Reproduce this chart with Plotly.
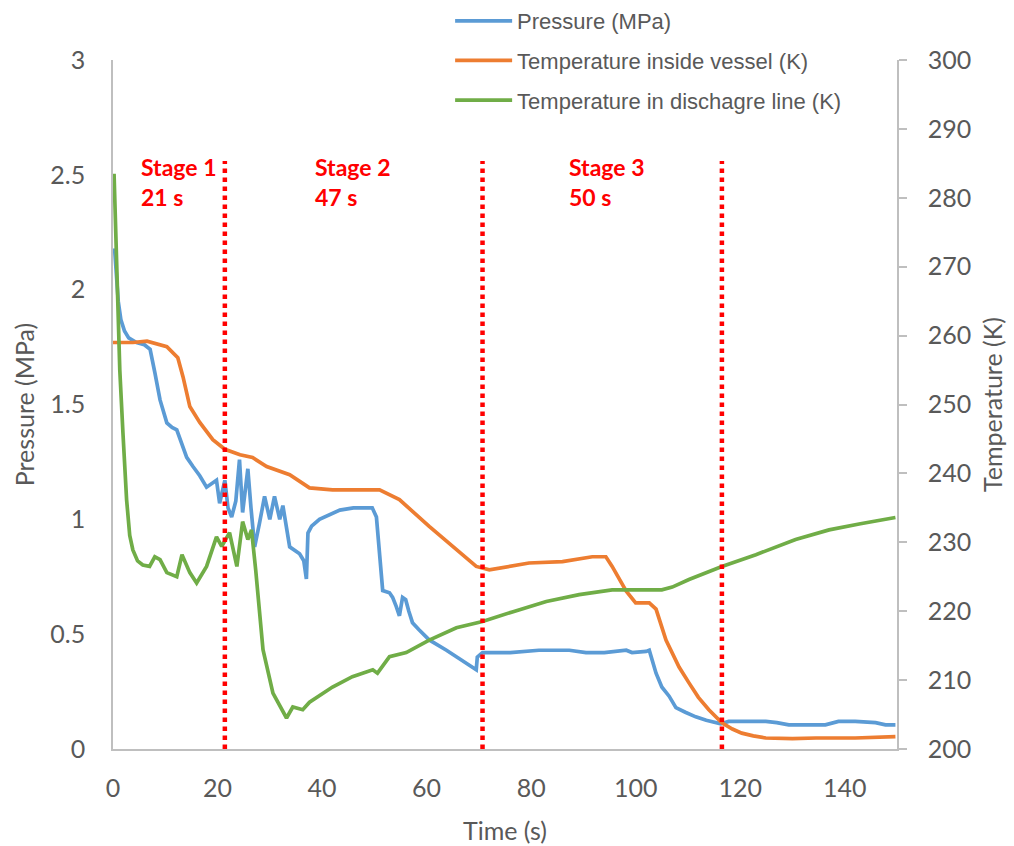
import plotly.graph_objects as go

# ---------------- data ----------------
p_time = [0.3, 0.6, 1.0, 1.5, 2.2, 3.0, 4.5, 6.0, 7.1, 8.0, 9.0, 10.3, 11.3, 12.2, 12.8, 14.1, 15.3, 16.6,
          17.9, 19.0, 19.8, 20.4, 21.4, 22.0, 22.7, 23.5, 24.2, 24.8, 25.8, 26.4, 27.1, 28.0, 29.0, 30.0,
          30.9, 31.9, 32.5, 33.8, 35.7, 36.5, 37.0, 37.3, 38.0, 39.5, 41.5, 43.4, 46.0, 48.5, 49.6, 50.4,
          51.0, 51.6, 52.9, 53.5, 54.2, 54.8, 55.4, 56.0, 56.6, 57.3, 58.5, 60.5, 63.8, 66.5, 69.5, 69.7,
          70.7, 72.0, 76.0, 81.5, 87.3, 90.5, 94.0, 98.2, 99.3, 102.0, 102.6, 103.9, 105.0, 106.4,
          107.7, 109.5, 111.5, 113.5, 116.3, 117.8, 121.0, 124.9, 127.0, 129.3, 133.0, 136.3, 138.8,
          142.0, 145.9, 147.8, 149.7]
pressure = [2.18, 2.05, 1.95, 1.87, 1.82, 1.79, 1.77, 1.76, 1.74, 1.64, 1.52, 1.42, 1.40, 1.39, 1.35, 1.27, 1.23, 1.19,
            1.14, 1.16, 1.17, 1.07, 1.17, 1.05, 1.01, 1.08, 1.26, 1.03, 1.22, 1.05, 0.88, 0.98, 1.10, 1.00,
            1.10, 1.00, 1.06, 0.88, 0.85, 0.82, 0.74, 0.94, 0.97, 1.00, 1.02, 1.04, 1.05, 1.05, 1.05, 1.01,
            0.87, 0.69, 0.68, 0.66, 0.62, 0.58, 0.66, 0.65, 0.60, 0.55, 0.52, 0.475, 0.43, 0.39, 0.345, 0.40,
            0.42, 0.42, 0.42, 0.43, 0.43, 0.42, 0.42, 0.43, 0.42, 0.425, 0.43, 0.33, 0.27, 0.23,
            0.18, 0.16, 0.14, 0.125, 0.11, 0.12, 0.12, 0.12, 0.115, 0.105, 0.105, 0.105, 0.12,
            0.12, 0.115, 0.105, 0.105]

tv_time = [0.0, 3.8, 6.5, 10.3, 12.4, 13.4, 14.7, 16.6, 19.1, 21.4, 24.3, 26.7, 29.4, 33.8, 37.6, 42.0,
           51.0, 54.8, 60.5, 65.0, 69.5, 72.0, 79.6, 86.0, 91.7, 94.3, 95.5, 98.2, 100.0, 102.6, 103.9,
           105.8, 108.3, 110.2, 112.0, 114.0, 116.5, 118.5, 120.3, 122.5, 124.9, 130.0, 134.5, 142.0, 149.7]
temp_vessel = [259.0, 259.0, 259.2, 258.4, 256.8, 254.0, 249.7, 247.4, 244.9, 243.5, 242.7, 242.3, 241.0, 239.8, 237.9, 237.6,
               237.6, 236.2, 232.3, 229.4, 226.5, 226.0, 227.0, 227.2, 227.9, 227.9, 226.5, 222.9, 221.2, 221.2, 220.3,
               215.8, 211.9, 209.6, 207.5, 205.7, 203.8, 202.9, 202.3, 201.9, 201.6, 201.5, 201.6, 201.6, 201.8]

td_time = [0.2, 0.6, 0.9, 1.3, 1.9, 2.6, 3.2, 3.8, 4.7, 5.7, 7.0, 8.0, 9.0, 10.3, 12.2, 13.2, 14.7, 16.0,
           17.9, 19.8, 20.8, 22.3, 23.7, 24.8, 25.8, 26.5, 27.3, 28.7, 30.6, 33.2, 34.4, 36.3, 37.6, 42.0,
           45.8, 49.7, 50.6, 52.9, 56.1, 60.5, 65.7, 70.7, 76.4, 82.9, 89.2, 95.5, 102.0, 105.0, 107.0,
           110.2, 116.5, 123.0, 130.6, 137.0, 143.0, 149.7]
temp_discharge = [283.5, 272.0, 263.0, 255.0, 245.9, 236.2, 231.0, 228.9, 227.3, 226.7, 226.5, 227.9, 227.5, 225.6, 225.0, 228.2, 225.6, 224.1,
                  226.5, 230.8, 229.4, 231.4, 226.5, 233.0, 230.4, 231.8, 226.0, 214.4, 208.1, 204.5, 206.1, 205.7, 206.8, 209.0,
                  210.5, 211.5, 211.0, 213.4, 214.0, 215.8, 217.6, 218.5, 219.9, 221.4, 222.4, 223.1, 223.1, 223.1, 223.5,
                  224.6, 226.5, 228.2, 230.4, 231.8, 232.7, 233.6]

stage_bounds = [21.4, 70.7, 116.5]          # s, dotted red lines
stage_names = ["Stage 1", "Stage 2", "Stage 3"]
stage_durations = ["21 s", "47 s", "50 s"]
stage_label_x = [5.0, 38.3, 86.8]

x_ticks = [0, 20, 40, 60, 80, 100, 120, 140]
p_ticks = [0, 0.5, 1, 1.5, 2, 2.5, 3]
t_ticks = [200, 210, 220, 230, 240, 250, 260, 270, 280, 290, 300]

# ---------------- figure ----------------
GRAY = "#595959"
AXIS = "#BFBFBF"
TICKFONT = dict(family="Lato", size=25, color=GRAY)

fig = go.Figure()
fig.add_trace(go.Scatter(x=p_time, y=pressure, mode="lines", name="Pressure (MPa)",
                         line=dict(color="#5B9BD5", width=3.7), legendgroup="a"))
fig.add_trace(go.Scatter(x=tv_time, y=temp_vessel, mode="lines", name="Temperature inside vessel (K)",
                         line=dict(color="#ED7D31", width=3.7), yaxis="y2", legendgroup="b"))
fig.add_trace(go.Scatter(x=td_time, y=temp_discharge, mode="lines", name="Temperature in dischagre line (K)",
                         line=dict(color="#70AD47", width=3.7), yaxis="y2", legendgroup="c"))

for xb in stage_bounds:
    fig.add_shape(type="line", xref="x", yref="y", x0=xb, x1=xb, y0=0, y1=2.56,
                  line=dict(color="#FF0000", width=4.5, dash="dot"))

for xl, nm, du in zip(stage_label_x, stage_names, stage_durations):
    fig.add_annotation(x=xl, y=2.467, xref="x", yref="y", xanchor="left", yanchor="middle",
                       text=f"<b>{nm}<br>{du}</b>", showarrow=False, align="left",
                       font=dict(family="Lato", size=23, color="#FF0000"))

fig.update_layout(
    width=1014, height=846,
    margin=dict(l=113, r=117, t=60, b=97, autoexpand=False),
    plot_bgcolor="white", paper_bgcolor="white",
    showlegend=True,
    legend=dict(x=0.43, y=1.087, xanchor="left", yanchor="top",
                font=dict(family="Liberation Sans", size=22, color=GRAY),
                tracegroupgap=8, itemwidth=57, bgcolor="rgba(0,0,0,0)"),
    xaxis=dict(range=[0, 150], tickvals=x_ticks, showgrid=False, zeroline=False,
               showline=True, linecolor=AXIS, linewidth=1.5, ticks="",
               tickfont=TICKFONT, ticklabelstandoff=16,
               title=dict(text="Time (s)", font=dict(family="Lato", size=25, color=GRAY), standoff=22)),
    yaxis=dict(range=[0, 3], tickvals=p_ticks, showgrid=False, zeroline=False,
               showline=True, linecolor=AXIS, linewidth=1.5, ticks="",
               tickfont=TICKFONT, ticklabelstandoff=21,
               title=dict(text="Pressure (MPa)", font=dict(family="Lato", size=25, color=GRAY), standoff=9)),
    yaxis2=dict(range=[200, 300], tickvals=t_ticks, overlaying="y", side="right",
                showgrid=False, zeroline=False, showline=True, linecolor=AXIS, linewidth=1.5,
                ticks="outside", ticklen=8, tickcolor=AXIS, tickwidth=1.5,
                tickfont=TICKFONT, ticklabelstandoff=16,
                title=dict(text="Temperature (K)", font=dict(family="Lato", size=25, color=GRAY), standoff=14)),
)

fig.write_html("out.html")
